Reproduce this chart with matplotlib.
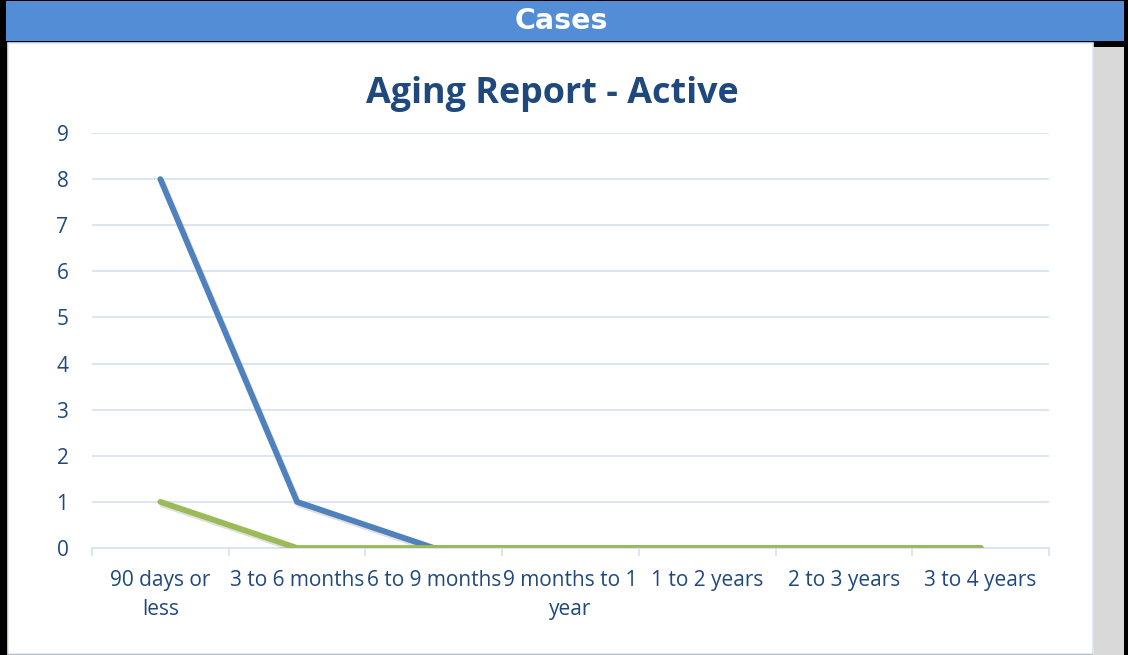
import matplotlib.pyplot as plt
import matplotlib.patheffects as pe
from matplotlib.patches import Rectangle

# ---------------- data ----------------
categories = ["90 days or\nless", "3 to 6 months", "6 to 9 months",
              "9 months to 1\nyear", "1 to 2 years", "2 to 3 years", "3 to 4 years"]
series_blue = [8, 1, 0, 0, 0, 0, 0]
series_green = [1, 0, 0, 0, 0, 0, 0]

W, H = 1128, 655
text_col = "#1F497D"
grid_col = "#D9E4F1"

fig = plt.figure(figsize=(W / 100, H / 100), dpi=100)
fig.patch.set_facecolor("black")


def px_rect(x0, y0, x1, y1, **kw):
    # rectangle in pixel coords measured from the top-left corner
    fig.patches.append(Rectangle((x0 / W, 1 - y1 / H), (x1 - x0) / W, (y1 - y0) / H,
                                 transform=fig.transFigure, figure=fig, zorder=-5, **kw))


# banner + panels
px_rect(6, 1, 1124, 41, facecolor="#538DD5", edgecolor="none")
px_rect(1093, 47, 1124, 655, facecolor="#D9D9D9", edgecolor="none")
px_rect(8, 43, 1093, 654, facecolor="white", edgecolor="#DCE6F2", linewidth=1.2)
fig.text(561 / W, 1 - 21 / H, "Cases", color="white", fontsize=20.5, fontweight="bold",
         family="DejaVu Sans", ha="center", va="center")

# --------------- graph ----------------
ax = fig.add_axes([92 / W, 1 - 548 / H, (1049 - 92) / W, (548 - 133) / H])
ax.set_facecolor("none")
x = list(range(len(categories)))
shadow = [pe.SimpleLineShadow(offset=(1.5, -2), alpha=0.12, shadow_color="black"), pe.Normal()]
ax.plot(x, series_blue, color="#4F81BD", lw=4.2, solid_capstyle="round",
        solid_joinstyle="miter", path_effects=shadow, zorder=3)
ax.plot(x, series_green, color="#9BBB59", lw=4.2, solid_capstyle="round",
        solid_joinstyle="miter", path_effects=shadow, zorder=4)

ax.set_xlim(-0.5, len(categories) - 0.5)
ax.set_ylim(0, 9)
ax.set_yticks(range(10))
ax.yaxis.grid(True, color=grid_col, lw=1.3)
ax.set_axisbelow(True)
for s in ["top", "right", "left"]:
    ax.spines[s].set_visible(False)
ax.spines["bottom"].set_color(grid_col)
ax.spines["bottom"].set_linewidth(1.3)

ax.set_xticks([i - 0.5 for i in range(len(categories) + 1)])
ax.set_xticklabels([])
ax.set_xticks(x, minor=True)
ax.set_xticklabels(categories, minor=True, fontsize=15, color=text_col,
                   family="Open Sans", linespacing=1.5)
ax.tick_params(axis="x", which="major", length=6, color=grid_col, width=1.3)
ax.tick_params(axis="x", which="minor", length=0, pad=15.5)
ax.tick_params(axis="y", length=0, pad=17, labelsize=15, labelcolor=text_col)
for lab in ax.get_yticklabels():
    lab.set_family("Open Sans")

fig.text(552 / W, 1 - 94 / H, "Aging Report - Active", color=text_col, fontsize=25.8,
         fontweight="bold", family="Open Sans", ha="center", va="center")

fig.savefig("out.png", dpi=100, facecolor=fig.get_facecolor())
